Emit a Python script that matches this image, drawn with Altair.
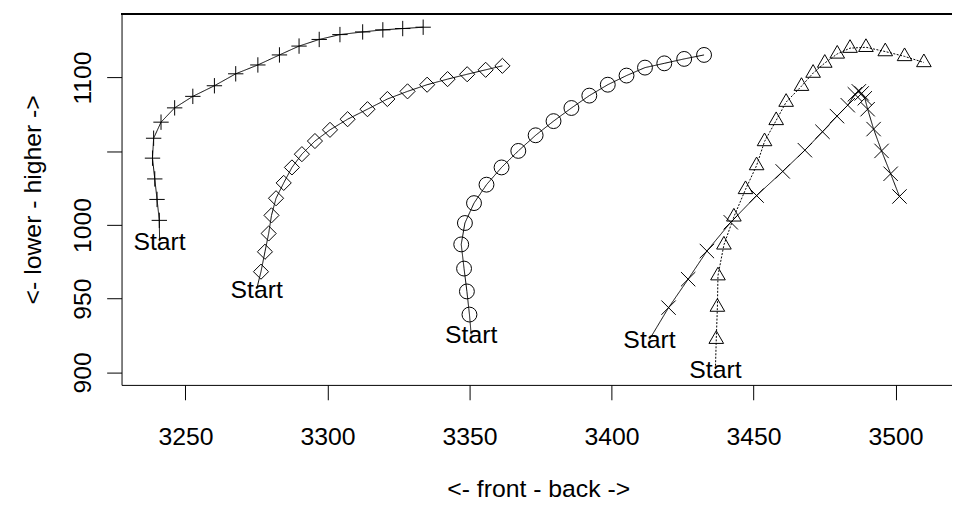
import altair as alt
import pandas as pd

# ---- data (first value of each track is the "Start" point) ----
series = ["plus", "diamond", "circle", "triangle", "cross"]

plus_x = [3240.9, 3240.8, 3240.0, 3239.2, 3238.4, 3238.8, 3241.4, 3246.2, 3252.6, 3260.2,
          3267.7, 3275.5, 3283.1, 3290.0, 3297.1, 3304.4, 3312.4, 3319.5, 3326.5, 3333.7]
plus_y = [989.0, 1003.1, 1017.3, 1031.2, 1045.3, 1058.8, 1069.7, 1079.4, 1087.2, 1094.4,
          1102.5, 1108.5, 1115.3, 1121.3, 1125.8, 1129.1, 1130.9, 1132.3, 1133.2, 1134.1]

diamond_x = [3275.1, 3276.6, 3278.0, 3279.3, 3280.3, 3281.9, 3284.6, 3287.5, 3291.0, 3295.6,
             3300.9, 3307.1, 3314.1, 3321.1, 3328.2, 3335.1, 3342.3, 3349.2, 3355.7, 3361.6]
diamond_y = [956.7, 968.3, 981.8, 994.2, 1006.5, 1018.1, 1028.5, 1039.0, 1048.0, 1056.9,
             1064.5, 1071.7, 1078.5, 1085.4, 1090.6, 1095.1, 1098.9, 1102.2, 1105.2, 1107.9]

circle_x = [3350.6, 3350.0, 3349.1, 3348.1, 3347.1, 3348.4, 3351.6, 3356.0, 3361.3, 3367.2,
            3373.3, 3379.6, 3385.9, 3392.2, 3398.7, 3405.3, 3411.8, 3418.6, 3425.6, 3432.6]
circle_y = [925.8, 939.2, 954.9, 970.4, 986.8, 1001.3, 1014.8, 1027.3, 1039.0, 1050.2,
            1060.8, 1070.4, 1079.3, 1087.7, 1095.1, 1101.3, 1106.7, 1109.6, 1112.6, 1115.3]

triangle_x = [3436.6, 3436.9, 3437.3, 3437.5, 3439.6, 3443.1, 3447.2, 3451.1, 3453.9, 3458.0,
              3461.5, 3466.9, 3471.0, 3475.1, 3479.5, 3484.0, 3489.6, 3496.4, 3503.2, 3510.0]
triangle_y = [902.2, 922.5, 944.3, 965.6, 986.5, 1005.5, 1024.1, 1040.3, 1056.6, 1070.9,
              1083.3, 1094.1, 1103.0, 1109.8, 1116.0, 1119.9, 1120.5, 1117.6, 1114.3, 1110.2]

cross_x = [3413.4, 3420.1, 3427.0, 3433.6, 3442.0, 3451.1, 3460.3, 3468.1, 3474.3, 3479.4,
           3483.2, 3485.7, 3487.1, 3488.1, 3489.2, 3490.2, 3492.3, 3495.1, 3498.3, 3501.4]
cross_y = [922.4, 943.9, 963.2, 982.3, 1001.8, 1019.9, 1036.3, 1050.7, 1063.2, 1073.8,
           1081.2, 1088.6, 1090.6, 1089.2, 1085.9, 1078.5, 1065.0, 1050.2, 1034.7, 1019.3]

x_ticks = [3250, 3300, 3350, 3400, 3450, 3500]
y_ticks = [900, 950, 1000, 1050, 1100]
start_label = "Start"
x_title = "<- front - back ->"
y_title = "<- lower - higher ->"

tracks = {
    "plus": (plus_x, plus_y),
    "diamond": (diamond_x, diamond_y),
    "circle": (circle_x, circle_y),
    "triangle": (triangle_x, triangle_y),
    "cross": (cross_x, cross_y),
}
rows = []
for s in series:
    xs, ys = tracks[s]
    for i, (xv, yv) in enumerate(zip(xs, ys)):
        rows.append({"series": s, "idx": i, "x": xv, "y": yv})
df = pd.DataFrame(rows)

# ---- styling ----
FONT = "Liberation Sans"
W, H = 837.5, 374.4
shape_paths = {
    "plus": "M-1,0L1,0M0,-1L0,1",
    "diamond": "M-1,0L0,-1L1,0L0,1Z",
    "circle": "circle",
    "triangle": "M0,-1.155L1,0.577L-1,0.577Z",
    "cross": "M-1,-1L1,1M-1,1L1,-1",
}
shape_sizes = {"plus": 240, "diamond": 210, "circle": 110, "triangle": 215, "cross": 130}
dashes = {"plus": [1, 0], "diamond": [1, 0], "circle": [1, 0], "triangle": [2, 1.5], "cross": [1, 0]}

xscale = alt.Scale(domain=[3227.5, 3519.9], nice=False, zero=False)
yscale = alt.Scale(domain=[891.5, 1143.3], nice=False, zero=False)

xaxis = alt.Axis(values=x_ticks, format="d", title=x_title, grid=False, tickSize=15, tickColor="black",
                 domainColor="black", labelFont=FONT, labelFontSize=25, labelColor="black",
                 labelBaseline="alphabetic", labelPadding=45, labelFlush=False,
                 titleFont=FONT, titleFontSize=25, titleFontWeight="normal", titleColor="black",
                 titleBaseline="alphabetic", titleX=420.2, titleY=113, titleAnchor="middle",
                 titleAlign="center")
yaxis = alt.Axis(values=y_ticks, format="d", title=y_title, grid=False, tickSize=15, tickColor="black",
                 domainColor="black", labelFont=FONT, labelFontSize=25, labelColor="black",
                 labelAngle=270, labelAlign="center", labelBaseline="alphabetic",
                 labelPadding=16, labelFlush=False, labelOverlap=False,
                 labelExpr="datum.value == 1050 ? '' : datum.label",
                 titleFont=FONT, titleFontSize=25, titleFontWeight="normal", titleColor="black",
                 titleAngle=270, titleAlign="center", titleBaseline="alphabetic",
                 titleX=-82, titleY=H / 2)

base = alt.Chart(df)

lines = base.mark_line(color="black", strokeWidth=1).encode(
    x=alt.X("x:Q", scale=xscale, axis=xaxis),
    y=alt.Y("y:Q", scale=yscale, axis=yaxis),
    detail="series:N",
    order="idx:Q",
    strokeDash=alt.StrokeDash("series:N", scale=alt.Scale(domain=series, range=[dashes[s] for s in series]), legend=None),
)

points = base.transform_filter("datum.idx > 0").mark_point(
    filled=False, color="black", strokeWidth=1, opacity=1
).encode(
    x=alt.X("x:Q", scale=xscale),
    y=alt.Y("y:Q", scale=yscale),
    shape=alt.Shape("series:N", scale=alt.Scale(domain=series, range=[shape_paths[s] for s in series]), legend=None),
    size=alt.Size("series:N", scale=alt.Scale(domain=series, range=[shape_sizes[s] for s in series]), legend=None),
)

labels = base.transform_filter("datum.idx == 0").transform_calculate(lab=f"'{start_label}'").mark_text(
    font=FONT, fontSize=25, color="black", align="center", baseline="middle", dy=1
).encode(
    x=alt.X("x:Q", scale=xscale),
    y=alt.Y("y:Q", scale=yscale),
    text="lab:N",
)

top_rule = alt.Chart(df).mark_rule(color="black", strokeWidth=1).encode(
    x=alt.value(0), x2=alt.value(W), y=alt.value(0)
)

chart = alt.layer(lines, points, labels, top_rule).properties(
    width=W, height=H,
    autosize=alt.AutoSizeParams(type="none"),
    padding={"left": 114.5, "top": 3.6, "right": 0, "bottom": 117},
    background="white",
).configure_view(stroke=None)

chart.save("out.html", embed_options={"renderer": "svg", "actions": False})
